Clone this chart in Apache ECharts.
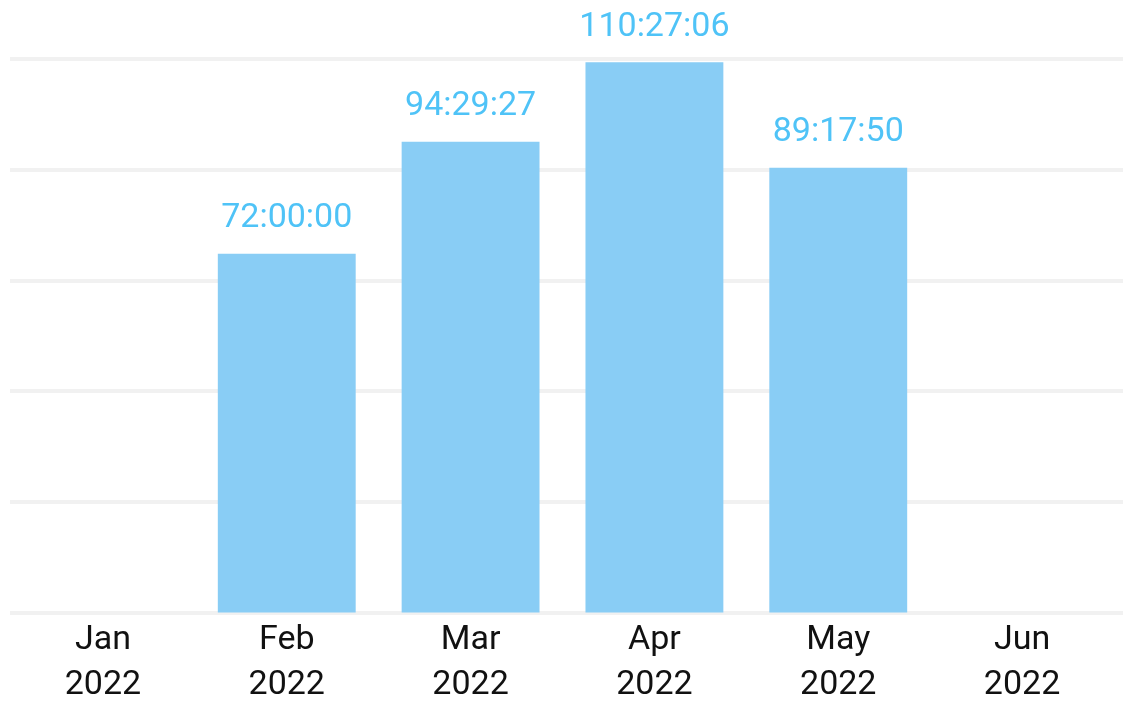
<!DOCTYPE html>
<html>
<head>
<meta charset="utf-8">
<script src="https://cdn.jsdelivr.net/npm/echarts@6/dist/echarts.min.js"></script>
<style>
  html, body { margin: 0; padding: 0; background: #fff; }
  #chart { width: 1123px; height: 701px; }
</style>
</head>
<body>
<div id="chart"></div>
<script>
// months on the x axis
const months = ['Jan\n2022', 'Feb\n2022', 'Mar\n2022', 'Apr\n2022', 'May\n2022', 'Jun\n2022']
// durations in seconds (labels shown as HH:MM:SS), null = no bar
const durations = [null, 259200, 340167, 397626, 321470, null]

// seconds -> HH:MM:SS
const fmtDuration = (s) => {
  const h = Math.floor(s / 3600)
  const m = Math.floor((s % 3600) / 60)
  const sec = s % 60
  const pad = (n) => String(n).padStart(2, '0')
  return `${pad(h)}:${pad(m)}:${pad(sec)}`
}

const chart = echarts.init(document.getElementById('chart'))

// same value scale for both grids; the second one only draws the full-width grid lines
const valueAxis = {
  type: 'value',
  min: 0,
  max: 400000,
  interval: 80000,
  axisLabel: { show: false },
  axisLine: { show: false },
  axisTick: { show: false }
}

chart.setOption({
  animation: false,
  grid: [
    { left: 11, right: 9, top: 59, bottom: 88.5, outerBoundsMode: 'none' },
    { left: 10, right: 0, top: 59, bottom: 88.5, outerBoundsMode: 'none', z: 0 }
  ],
  xAxis: [
    {
      type: 'category',
      gridIndex: 0,
      data: months,
      axisLine: { show: false },
      axisTick: { show: false },
      axisLabel: {
        color: '#111',
        fontFamily: 'Roboto',
        fontSize: 34,
        lineHeight: 45,
        margin: 5
      }
    },
    {
      type: 'category',
      gridIndex: 1,
      data: months,
      show: false
    }
  ],
  yAxis: [
    Object.assign({ gridIndex: 0, splitLine: { show: false } }, valueAxis),
    Object.assign({ gridIndex: 1, z: 0, splitLine: { lineStyle: { color: '#f1f1f1', width: 4 } } }, valueAxis)
  ],
  series: [
    {
      type: 'bar',
      xAxisIndex: 0,
      yAxisIndex: 0,
      z: 3,
      data: durations,
      barWidth: '75%',
      itemStyle: { color: '#89cdf5' },
      label: {
        show: true,
        position: 'top',
        distance: 18,
        color: '#4fc3f7',
        fontFamily: 'Roboto',
        fontSize: 34,
        formatter: (p) => fmtDuration(p.value)
      }
    }
  ]
})
</script>
</body>
</html>
